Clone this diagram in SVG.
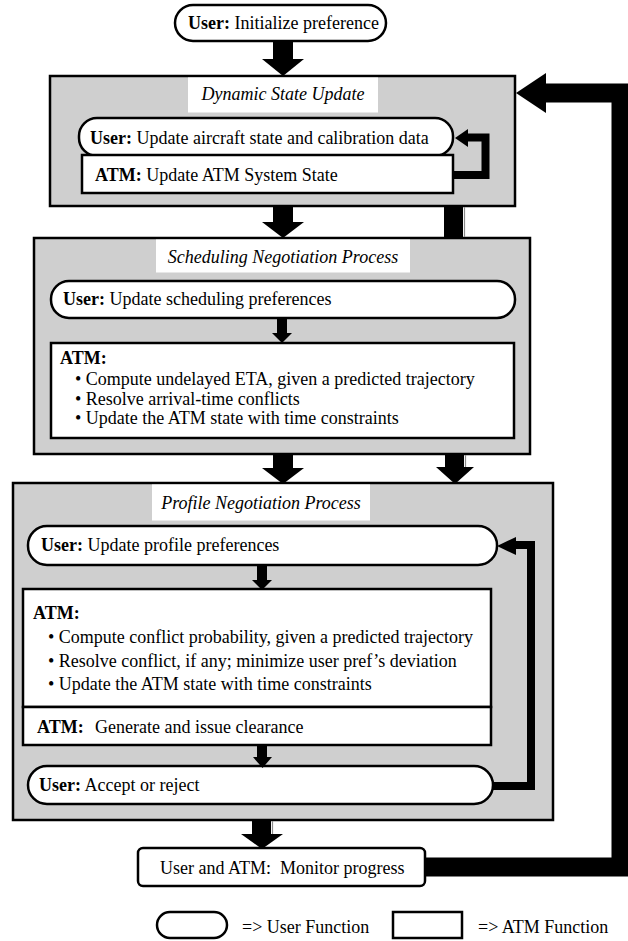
<svg xmlns="http://www.w3.org/2000/svg" width="628" height="941" viewBox="0 0 628 941">
<style>
text { font-family: "Liberation Serif", "Times New Roman", serif; font-size: 18px; fill: #000; }
.b { font-weight: bold; }
.it { font-style: italic; }
.stage { fill: #cfcfcf; stroke: #000; stroke-width: 2.5; }
.lab { fill: #fff; stroke: none; }
.box { fill: #fff; stroke: #000; stroke-width: 2.5; }
.ar { fill: #000; stroke: none; }
.sh { stroke: #8a8a8a; stroke-width: 1.2; }
.loop { fill: none; stroke: #000; stroke-width: 8; stroke-linejoin: miter; }
.fb { fill: none; stroke: #000; stroke-width: 19; stroke-linejoin: miter; }
</style>
<rect width="628" height="941" fill="#fff"/>

<g id="init">
  <rect class="box" x="175" y="5" width="211" height="36" rx="18"/>
  <text x="188" y="29"><tspan class="b">User:</tspan> Initialize preference</text>
</g>

<g id="dynamic">
  <rect class="stage" x="50" y="76" width="465" height="130"/>
  <rect class="lab" x="188" y="77.5" width="190" height="35"/>
  <text class="it" x="283" y="100" text-anchor="middle">Dynamic State Update</text>
</g>
<g id="dyn-user">
  <rect class="box" x="79" y="118" width="374" height="38" rx="18"/>
  <text x="90" y="144"><tspan class="b">User:</tspan> Update aircraft state and calibration data</text>
</g>
<g id="dyn-atm">
  <rect class="box" x="82" y="155" width="371" height="38"/>
  <text x="95" y="181"><tspan class="b">ATM:</tspan> Update ATM System State</text>
</g>

<g id="scheduling">
  <rect class="stage" x="34" y="238" width="496" height="216"/>
  <rect class="lab" x="156" y="239.5" width="254" height="33"/>
  <text class="it" x="283" y="263" text-anchor="middle">Scheduling Negotiation Process</text>
</g>
<g id="sch-user">
  <rect class="box" x="51" y="281" width="464" height="37" rx="18"/>
  <text x="63" y="305"><tspan class="b">User:</tspan> Update scheduling preferences</text>
</g>
<g id="sch-atm">
  <rect class="box" x="51" y="343" width="463" height="95"/>
  <text class="b" x="60" y="364">ATM:</text>
  <text x="75" y="385">• Compute undelayed ETA, given a predicted trajectory</text>
  <text x="75" y="405">• Resolve arrival-time conflicts</text>
  <text x="75" y="424">• Update the ATM state with time constraints</text>
</g>

<g id="profile">
  <rect class="stage" x="13" y="483" width="540" height="337"/>
  <rect class="lab" x="152" y="484.5" width="218" height="36"/>
  <text class="it" x="261" y="509" text-anchor="middle">Profile Negotiation Process</text>
</g>
<g id="pro-user">
  <rect class="box" x="28" y="526" width="469" height="39" rx="19"/>
  <text x="41" y="551"><tspan class="b">User:</tspan> Update profile preferences</text>
</g>
<g id="pro-atm">
  <rect class="box" x="23" y="589" width="468" height="118"/>
  <text class="b" x="33" y="619">ATM:</text>
  <text x="48" y="643">• Compute conflict probability, given a predicted trajectory</text>
  <text x="48" y="667">• Resolve conflict, if any; minimize user pref’s deviation</text>
  <text x="48" y="690">• Update the ATM state with time constraints</text>
</g>
<g id="pro-clearance">
  <rect class="box" x="23" y="707" width="468" height="38"/>
  <text x="37" y="733"><tspan class="b">ATM:</tspan><tspan x="95">Generate and issue clearance</tspan></text>
</g>
<g id="pro-accept">
  <rect class="box" x="28" y="766" width="465" height="38" rx="19"/>
  <text x="39" y="791"><tspan class="b">User:</tspan> Accept or reject</text>
</g>

<g id="monitor">
  <rect class="box" x="138" y="848" width="287" height="38" rx="5"/>
  <text x="160" y="874">User and ATM:<tspan x="280">Monitor progress</tspan></text>
</g>

<g id="connectors">
  <!-- init -> dynamic -->
  <rect class="ar" x="273" y="41" width="20" height="18"/>
  <polygon class="ar" points="262,59 304,59 283,76"/>
  <!-- dynamic inner loop -->
  <path class="loop" d="M453 175 H485.5 V137.5 H466"/>
  <polygon class="ar" points="455,138 468,129 468,147"/>
  <!-- dynamic -> scheduling -->
  <rect class="ar" x="273" y="206" width="20" height="16"/>
  <polygon class="ar" points="262,222 304,222 283,238"/>
  <rect class="ar" x="444" y="206" width="19" height="32"/>
  <line class="sh" x1="464.5" y1="207" x2="464.5" y2="237"/>
  <!-- scheduling user -> atm -->
  <rect class="ar" x="277" y="318" width="10" height="15"/>
  <polygon class="ar" points="272,333 292,333 282,343"/>
  <!-- scheduling -> profile -->
  <rect class="ar" x="273" y="454" width="20" height="14"/>
  <polygon class="ar" points="262,468 304,468 283,484"/>
  <rect class="ar" x="445" y="454" width="19" height="13"/>
  <line class="sh" x1="465.5" y1="455" x2="465.5" y2="467"/>
  <polygon class="ar" points="436,467 474,467 455,484"/>
  <!-- profile user -> atm -->
  <rect class="ar" x="257" y="565" width="10" height="15"/>
  <polygon class="ar" points="252,580 272,580 262,590"/>
  <!-- clearance -> accept -->
  <rect class="ar" x="257" y="745" width="10" height="12"/>
  <polygon class="ar" points="253,757 272,757 262.5,768"/>
  <!-- accept -> profile user loop -->
  <path class="loop" d="M493 786 H531 V545 H514"/>
  <polygon class="ar" points="497,546 516,537 516,555"/>
  <!-- profile -> monitor -->
  <rect class="ar" x="252" y="820" width="19" height="14"/>
  <line class="sh" x1="272.5" y1="821" x2="272.5" y2="834"/>
  <polygon class="ar" points="241,834 283,834 262,849"/>
  <!-- monitor -> dynamic feedback -->
  <path class="fb" d="M425 867 H621 V93 H545"/>
  <polygon class="ar" points="516,93 546,73 546,113"/>
</g>

<g id="legend">
  <rect class="box" x="157" y="912" width="70" height="26" rx="13"/>
  <text x="242" y="933">=&gt; User Function</text>
  <rect class="box" x="393" y="912" width="69" height="26"/>
  <text x="478" y="933">=&gt; ATM Function</text>
</g>
</svg>
